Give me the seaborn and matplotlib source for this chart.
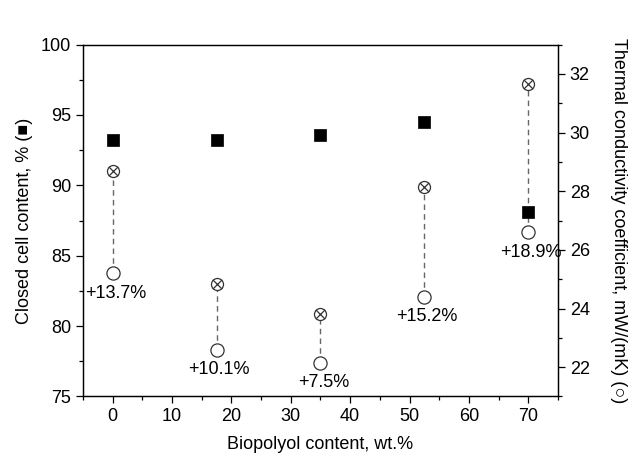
"""
Closed cell content and thermal conductivity vs biopolyol content
"""

import numpy as np
import pandas as pd
import matplotlib
matplotlib.use("Agg")
import matplotlib.pyplot as plt
from matplotlib.ticker import MultipleLocator
import seaborn as sns

# ==============================================================================
# data
biopolyol = [0, 17.5, 35, 52.5, 70]
closed_cell = [93.2, 93.2, 93.6, 94.5, 88.1]
lambda_initial = [25.2, 22.6, 22.15, 24.4, 26.6]
lambda_aged = [28.7, 24.85, 23.8, 28.15, 31.65]
increase_labels = ["+13.7%", "+10.1%", "+7.5%", "+15.2%", "+18.9%"]

df = pd.DataFrame({
    "biopolyol": biopolyol,
    "closed": closed_cell,
    "lam0": lambda_initial,
    "lam1": lambda_aged,
})

# ==============================================================================
sns.set_style("ticks")
plt.rcParams["font.family"] = ["Liberation Sans", "Noto Sans CJK SC", "DejaVu Sans"]
plt.rcParams["font.size"] = 13
plt.rcParams["text.color"] = "black"
plt.rcParams["axes.labelcolor"] = "black"
plt.rcParams["xtick.color"] = "black"
plt.rcParams["ytick.color"] = "black"

fig = plt.figure(figsize=(6.31, 4.59), dpi=100)
ax = fig.add_axes([0.1315, 0.1362, 0.7528, 0.7666])
ax2 = ax.twinx()

# ========== thermal conductivity (right axis) ==========
ax2.vlines(df["biopolyol"], df["lam0"], df["lam1"], colors="#666666",
           linestyles=(0, (4, 3)), linewidth=1, zorder=1)
sns.scatterplot(data=df, x="biopolyol", y="lam0", ax=ax2, marker="o", s=90,
                facecolor="white", edgecolor="#333333", linewidth=0.9, zorder=3)
sns.scatterplot(data=df, x="biopolyol", y="lam1", ax=ax2, marker="o", s=75,
                facecolor="white", edgecolor="#333333", linewidth=0.9, zorder=3)
sns.scatterplot(data=df, x="biopolyol", y="lam1", ax=ax2, marker="x", s=45,
                color="#333333", linewidth=0.9, zorder=4)
for xv, yv, lab in zip(biopolyol, lambda_initial, increase_labels):
    ax2.annotate(lab, (xv, yv), xytext=(2, -14.5), textcoords="offset points",
                 ha="center", va="center", fontsize=13)

# ========== closed cell content (left axis) ==========
sns.scatterplot(data=df, x="biopolyol", y="closed", ax=ax, marker="s", s=72,
                color="black", edgecolor="black", linewidth=0.5, zorder=5)
ax.set_zorder(ax2.get_zorder() + 1)
ax.patch.set_visible(False)

ax.set_xlim(-5, 75)
ax.set_ylim(75, 100)
ax2.set_ylim(21, 33)
ax.xaxis.set_major_locator(MultipleLocator(10))
ax.xaxis.set_minor_locator(MultipleLocator(5))
ax.yaxis.set_major_locator(MultipleLocator(5))
ax.yaxis.set_minor_locator(MultipleLocator(2.5))
ax2.yaxis.set_major_locator(MultipleLocator(2))
ax2.yaxis.set_minor_locator(MultipleLocator(1))

for a in (ax, ax2):
    a.tick_params(which="major", direction="out", length=5, width=0.9,
                  labelsize=13, color="black", labelcolor="black")
    a.tick_params(which="minor", direction="out", length=3, width=0.9, color="black")
    for sp in a.spines.values():
        sp.set_visible(True)
        sp.set_color("black")
        sp.set_linewidth(0.9)

ax.set_xlabel("Biopolyol content, wt.%", fontsize=13, labelpad=8)
ax.set_ylabel("Closed cell content, % (\u25a0)", fontsize=13, labelpad=6)
ax2.set_ylabel("Thermal conductivity coefficient, mW/(mK) (\u25cb)",
               fontsize=13, rotation=270, labelpad=27)

fig.savefig("out.png", dpi=100)
